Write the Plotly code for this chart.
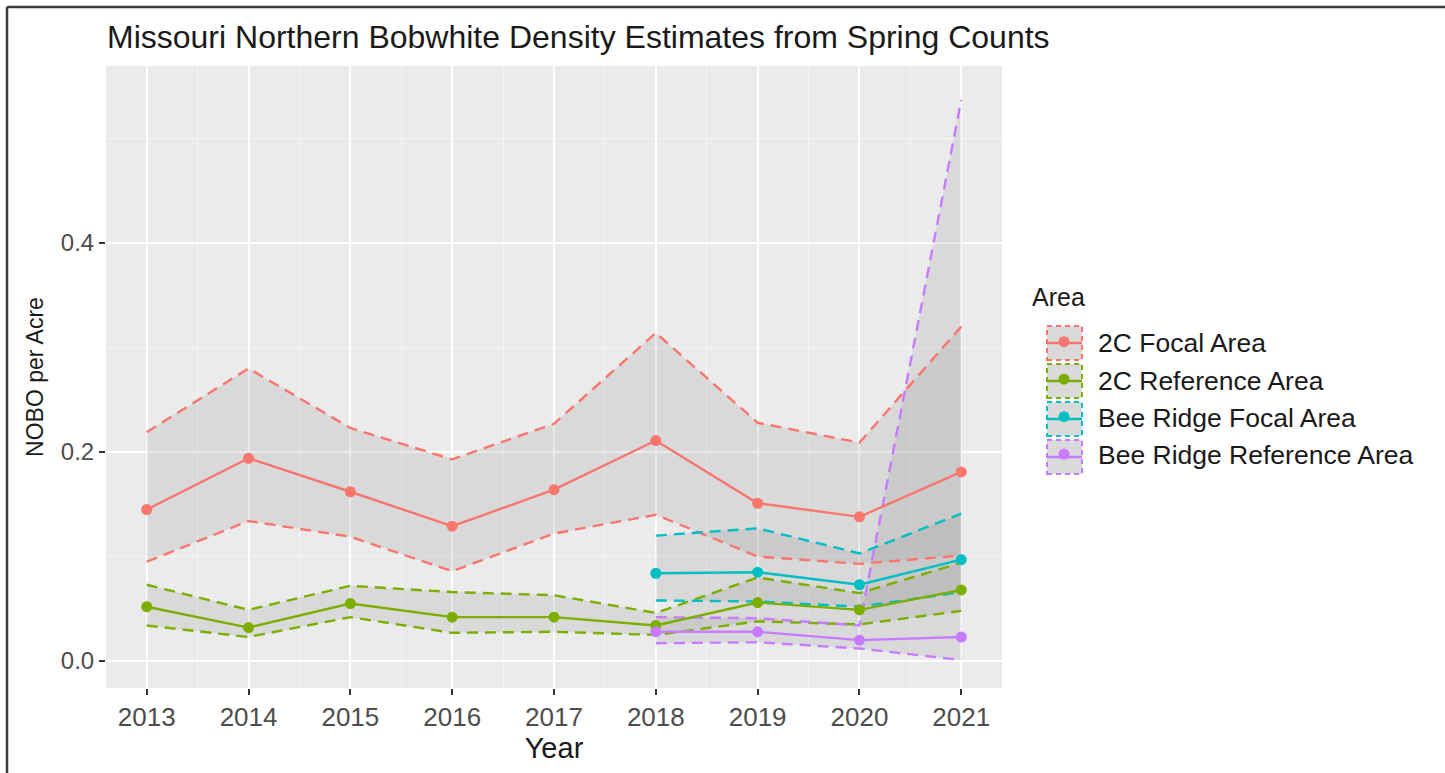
import plotly.graph_objects as go

# Spring-count density estimates (NOBO per acre) with confidence bounds
years = [2013, 2014, 2015, 2016, 2017, 2018, 2019, 2020, 2021]
bee_years = [2018, 2019, 2020, 2021]

focal_2c = [0.145, 0.194, 0.162, 0.129, 0.164, 0.211, 0.151, 0.138, 0.181]
focal_2c_lo = [0.095, 0.134, 0.119, 0.086, 0.122, 0.140, 0.100, 0.093, 0.101]
focal_2c_hi = [0.219, 0.280, 0.223, 0.193, 0.227, 0.314, 0.228, 0.209, 0.320]

ref_2c = [0.052, 0.032, 0.055, 0.042, 0.042, 0.034, 0.056, 0.049, 0.068]
ref_2c_lo = [0.034, 0.023, 0.042, 0.027, 0.028, 0.025, 0.038, 0.035, 0.048]
ref_2c_hi = [0.073, 0.049, 0.072, 0.066, 0.063, 0.046, 0.080, 0.065, 0.094]

bee_focal = [0.084, 0.085, 0.073, 0.097]
bee_focal_lo = [0.058, 0.057, 0.052, 0.066]
bee_focal_hi = [0.120, 0.127, 0.103, 0.141]

bee_ref = [0.028, 0.028, 0.020, 0.023]
bee_ref_lo = [0.017, 0.018, 0.012, 0.001]
bee_ref_hi = [0.042, 0.041, 0.034, 0.537]

area_names = ["2C Focal Area", "2C Reference Area", "Bee Ridge Focal Area", "Bee Ridge Reference Area"]
area_colors = ["#F8766D", "#7CAE00", "#00BFC4", "#C77CFF"]

series = [
    (years, focal_2c, focal_2c_lo, focal_2c_hi),
    (years, ref_2c, ref_2c_lo, ref_2c_hi),
    (bee_years, bee_focal, bee_focal_lo, bee_focal_hi),
    (bee_years, bee_ref, bee_ref_lo, bee_ref_hi),
]

FONT = "Liberation Sans, Arial, sans-serif"
DASH = "11px,7px"
RIBBON_FILL = "rgba(128,128,128,0.17)"
LW = 2.4

fig = go.Figure()

# ribbon fills
for (x, m, lo, hi), name, col in zip(series, area_names, area_colors):
    fig.add_trace(go.Scatter(
        x=list(x) + list(x)[::-1], y=list(hi) + list(lo)[::-1],
        fill="toself", fillcolor=RIBBON_FILL, mode="none",
        showlegend=False, hoverinfo="skip"))

# dashed ribbon outlines
for (x, m, lo, hi), name, col in zip(series, area_names, area_colors):
    for bound in (hi, lo):
        fig.add_trace(go.Scatter(
            x=x, y=bound, mode="lines",
            line=dict(color=col, width=LW, dash=DASH),
            showlegend=False, hoverinfo="skip"))

# estimate lines with points
for (x, m, lo, hi), name, col in zip(series, area_names, area_colors):
    fig.add_trace(go.Scatter(
        x=x, y=m, mode="lines+markers", name=name,
        line=dict(color=col, width=LW),
        marker=dict(color=col, size=11),
        legendgroup=name, showlegend=False))

# legend entries (point glyph; the key line and box are added as shapes)
for name, col in zip(area_names, area_colors):
    fig.add_trace(go.Scatter(
        x=[None], y=[None], mode="markers", name=name,
        marker=dict(color=col, size=11), legendgroup=name))

W, H = 1445, 773
ML, MR, MT, MB = 106, 443, 66, 85
PW, PH = W - ML - MR, H - MT - MB


def px_x(p):
    return (p - ML) / PW


def px_y(p):
    return (H - MB - p) / PH


KEY_Y0 = 343
KEY_STEP = 38
KEY_L, KEY_R = 1047, 1082

shapes = []
for i, col in enumerate(area_colors):
    cy = KEY_Y0 + KEY_STEP * i
    shapes.append(dict(
        type="rect", xref="paper", yref="paper",
        x0=px_x(KEY_L), x1=px_x(KEY_R), y0=px_y(cy + 17), y1=px_y(cy - 17),
        fillcolor="#DADADA", line=dict(color=col, width=2, dash="5px,4px"),
        layer="above"))
    shapes.append(dict(
        type="line", xref="paper", yref="paper",
        x0=px_x(KEY_L), x1=px_x(KEY_R), y0=px_y(cy), y1=px_y(cy),
        line=dict(color=col, width=LW), layer="above"))

# outer frame (top and left edges)
shapes.append(dict(type="line", xref="paper", yref="paper",
                   x0=px_x(7), x1=px_x(1445), y0=px_y(7), y1=px_y(7),
                   line=dict(color="#3C3C3C", width=2.5)))
shapes.append(dict(type="line", xref="paper", yref="paper",
                   x0=px_x(7), x1=px_x(7), y0=px_y(7), y1=px_y(773),
                   line=dict(color="#3C3C3C", width=2.5)))

fig.update_layout(
    width=W, height=H,
    margin=dict(l=ML, r=MR, t=MT, b=MB),
    paper_bgcolor="white",
    plot_bgcolor="#EBEBEB",
    font=dict(family=FONT, color="#1A1A1A"),
    title=dict(text="Missouri Northern Bobwhite Density Estimates from Spring Counts",
               x=107 / W, xanchor="left",
               y=1 - 37 / H, yanchor="middle",
               font=dict(size=32, color="#1A1A1A", family=FONT)),
    showlegend=True,
    legend=dict(
        font=dict(size=26.5, color="#1A1A1A"),
        x=px_x(1030), xanchor="left",
        y=px_y(318), yanchor="top",
        bgcolor="rgba(0,0,0,0)",
        itemwidth=58,
        tracegroupgap=0,
    ),
    annotations=[dict(
        text="Area", xref="paper", yref="paper",
        x=px_x(1030), xanchor="left", y=px_y(297), yanchor="middle",
        showarrow=False, font=dict(size=25, color="#1A1A1A", family=FONT))],
    shapes=shapes,
)

fig.update_xaxes(
    range=[2012.6, 2021.4],
    tickmode="array", tickvals=years, ticktext=[str(y) for y in years],
    showgrid=True, gridcolor="white", gridwidth=2,
    minor=dict(dtick=0.5, tick0=2012.5, showgrid=True, gridcolor="#F5F5F5", gridwidth=1),
    ticks="outside", ticklen=6, tickwidth=2, tickcolor="#333333",
    tickfont=dict(size=26, color="#4D4D4D"),
    zeroline=False, showline=False,
    title=dict(text="Year", font=dict(size=29, color="#1A1A1A"), standoff=2),
)
fig.update_yaxes(
    range=[-0.0258, 0.5694],
    tickmode="array", tickvals=[0.0, 0.2, 0.4], ticktext=["0.0", "0.2", "0.4"],
    showgrid=True, gridcolor="white", gridwidth=2,
    minor=dict(dtick=0.1, tick0=0.1, showgrid=True, gridcolor="#F5F5F5", gridwidth=1),
    ticks="outside", ticklen=6, tickwidth=2, tickcolor="#333333",
    tickfont=dict(size=24, color="#4D4D4D"),
    zeroline=False, showline=False,
    title=dict(text="NOBO per Acre", font=dict(size=23, color="#1A1A1A"), standoff=10),
)

fig.write_html("out.html")
